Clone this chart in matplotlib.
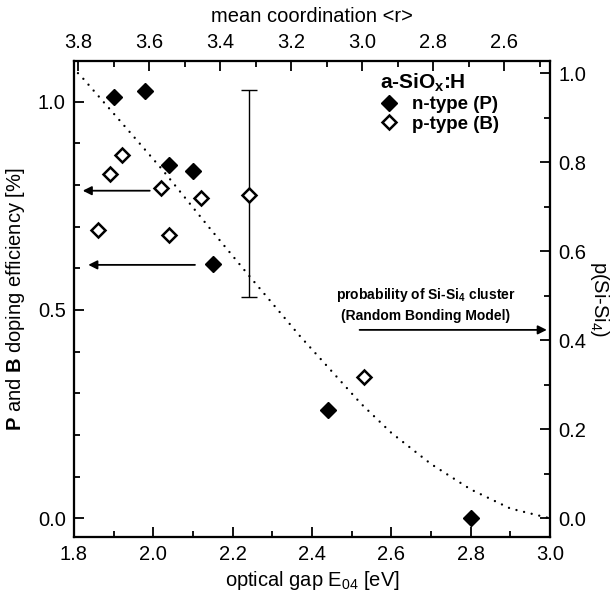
import matplotlib
matplotlib.use('Agg')
import matplotlib.pyplot as plt
from matplotlib.ticker import MultipleLocator, FormatStrFormatter

plt.rcParams['font.family'] = ['Liberation Sans', 'DejaVu Sans']
plt.rcParams['mathtext.fontset'] = 'custom'
plt.rcParams['mathtext.rm'] = 'Liberation Sans'
plt.rcParams['mathtext.it'] = 'Liberation Sans:italic'
plt.rcParams['mathtext.bf'] = 'Liberation Sans:bold'

# ---- data ----
E_n = [1.90, 1.98, 2.04, 2.10, 2.15, 2.44, 2.80]
eff_n = [1.010, 1.025, 0.848, 0.834, 0.610, 0.260, 0.000]

E_p = [1.86, 1.89, 1.92, 2.02, 2.04, 2.12, 2.24, 2.53]
eff_p = [0.692, 0.826, 0.872, 0.792, 0.680, 0.768, 0.776, 0.340]

E_err = [2.24]
eff_err = [0.779]
err_size = [0.249]

E_curve = [1.81, 1.819, 1.912, 2.021, 2.141, 2.245, 2.369, 2.523, 2.60, 2.70, 2.80, 2.90, 3.00]
p_curve = [1.000, 0.992, 0.897, 0.785, 0.653, 0.541, 0.410, 0.258, 0.192, 0.122, 0.065, 0.022, 0.000]

bottom_ticks = [1.8, 2.0, 2.2, 2.4, 2.6, 2.8, 3.0]
top_ticks = [3.8, 3.6, 3.4, 3.2, 3.0, 2.8, 2.6]
left_ticks = [0.0, 0.5, 1.0]
right_ticks = [0.0, 0.2, 0.4, 0.6, 0.8, 1.0]

FS = 14.5

fig = plt.figure(figsize=(6.15, 5.99), dpi=100)
ax = fig.add_axes([0.1203, 0.1035, 0.774, 0.7952])
ax2 = ax.twinx()
ax3 = ax.twiny()
ax.set_zorder(ax2.get_zorder() + 2)
ax.patch.set_visible(False)

ax.set_xlim(1.8, 3.0)
ax.set_ylim(-0.045, 1.098)
ax2.set_ylim(-0.042, 1.028)
ax3.set_xlim(3.812, 2.471)

# curve
ax2.plot(E_curve, p_curve, color='black', lw=1.7,
         linestyle=(0, (0.01, 3.3)), dash_capstyle='round')

# error bar
ax.errorbar(E_err, eff_err, yerr=err_size, fmt='none', ecolor='black',
            elinewidth=1.0, capsize=6, capthick=1.0)

ln_n, = ax.plot(E_n, eff_n, linestyle='none', marker='D', ms=8.0,
                mfc='black', mec='black', mew=1.0, label='n-type (P)')
ln_p, = ax.plot(E_p, eff_p, linestyle='none', marker='D', ms=7.6,
                mfc='white', mec='black', mew=1.8, label='p-type (B)')

# arrows
arrow_kw = dict(arrowstyle='-|>', color='black', lw=1.3, mutation_scale=13,
                shrinkA=0, shrinkB=0)
ax.annotate('', xy=(1.822, 0.786), xytext=(1.991, 0.786), arrowprops=arrow_kw)
ax.annotate('', xy=(1.836, 0.608), xytext=(2.105, 0.608), arrowprops=arrow_kw)
ax.annotate('', xy=(2.992, 0.452), xytext=(2.52, 0.452), arrowprops=arrow_kw)

ax.text(2.687, 0.512, 'probability of Si-Si$_\\mathbf{4}$ cluster\n(Random Bonding Model)',
        ha='center', va='center', multialignment='center', fontsize=10,
        fontweight='bold', linespacing=1.45)

# legend
leg = ax.legend(handles=[ln_n, ln_p], loc='upper left',
                bbox_to_anchor=(0.635, 0.985), frameon=False,
                title='a-SiO$_\\mathbf{x}$:H', fontsize=13.5,
                handlelength=1.0, handletextpad=0.7, labelspacing=0.12,
                borderaxespad=0.0, borderpad=0.2)
leg.get_title().set_fontweight('bold')
leg.get_title().set_fontsize(15)
leg._legend_box.align = 'left'
for t in leg.get_texts():
    t.set_fontweight('bold')

# ticks
ax.set_xticks(bottom_ticks)
ax.xaxis.set_minor_locator(MultipleLocator(0.1))
ax.set_yticks(left_ticks)
ax.yaxis.set_minor_locator(MultipleLocator(0.1))
ax.xaxis.set_major_formatter(FormatStrFormatter('%.1f'))
ax.yaxis.set_major_formatter(FormatStrFormatter('%.1f'))

ax2.set_yticks(right_ticks)
ax2.yaxis.set_minor_locator(MultipleLocator(0.1))
ax2.yaxis.set_major_formatter(FormatStrFormatter('%.1f'))

ax3.set_xticks(top_ticks)
ax3.xaxis.set_minor_locator(MultipleLocator(0.1))
ax3.xaxis.set_major_formatter(FormatStrFormatter('%.1f'))

ax.tick_params(axis='both', which='both', direction='in', labelsize=FS,
               top=False, right=False, width=1.3)
ax.tick_params(which='major', length=7, pad=6)
ax.tick_params(which='minor', length=4)
ax2.tick_params(axis='y', which='both', direction='in', labelsize=FS, width=1.3)
ax2.tick_params(which='major', length=7, pad=6)
ax2.tick_params(which='minor', length=4)
ax3.tick_params(axis='x', which='both', direction='in', labelsize=FS, width=1.3)
ax3.tick_params(which='major', length=7, pad=6)
ax3.tick_params(which='minor', length=4)

for a in (ax, ax2, ax3):
    for s in a.spines.values():
        s.set_linewidth(1.5)

ax.set_xlabel('optical gap E$_{04}$ [eV]', fontsize=FS, labelpad=3)
ax.set_ylabel('$\\mathbf{P}$ and $\\mathbf{B}$ doping efficiency [%]', fontsize=FS, labelpad=8)
ax2.set_ylabel('p(Si-Si$_4$)', fontsize=FS, rotation=270, labelpad=18)
ax3.set_xlabel('mean coordination <r>', fontsize=FS, labelpad=8)

fig.savefig('out.png', dpi=100)
